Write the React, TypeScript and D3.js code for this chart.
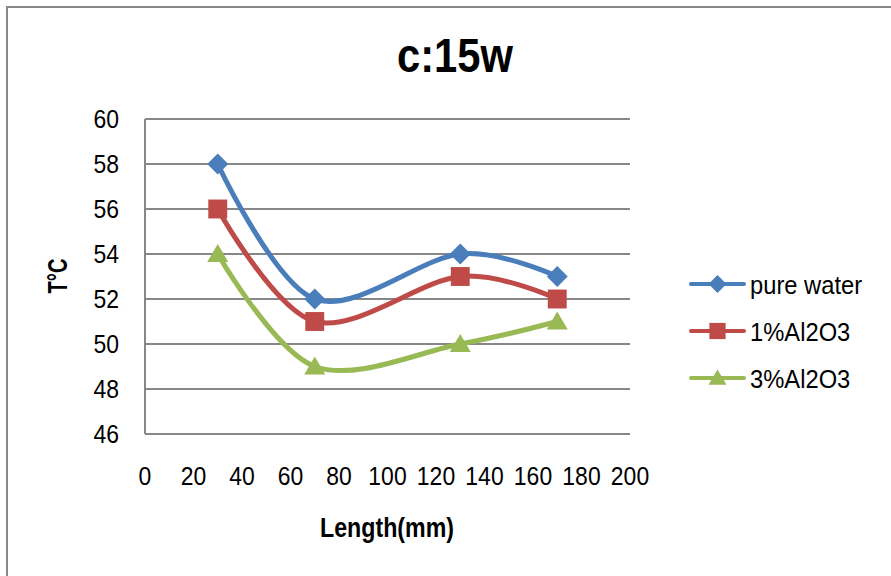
import React from "react";
import * as d3 from "d3";

const lengths = [30, 70, 130, 170];
const pureWater = [58, 52, 54, 53];
const al1 = [56, 51, 53, 52];
const al3 = [54, 49, 50, 51];
const xTicks = [0, 20, 40, 60, 80, 100, 120, 140, 160, 180, 200];
const yTicks = [46, 48, 50, 52, 54, 56, 58, 60];
const seriesNames = ["pure water", "1%Al2O3", "3%Al2O3"];
const seriesColors = ["#4A7EBB", "#BE4B48", "#98B954"];
const seriesMarkers = ["diamond", "square", "triangle"];
const seriesValues = [pureWater, al1, al3];

const W = 891;
const H = 576;
const FONT = "'Liberation Sans', Arial, sans-serif";

function Marker({ type, x, y, size, color }: { type: string; x: number; y: number; size: number; color: string }) {
  if (type === "diamond") {
    const s = size / 2;
    return <path d={`M${x},${y - s}L${x + s},${y}L${x},${y + s}L${x - s},${y}Z`} fill={color} />;
  }
  if (type === "square") {
    const s = size * 0.45;
    return <rect x={x - s} y={y - s} width={2 * s} height={2 * s} fill={color} />;
  }
  const s = size / 2;
  return <path d={`M${x},${y - s * 0.95}L${x + s},${y + s * 0.75}L${x - s},${y + s * 0.75}Z`} fill={color} />;
}

export default function App() {
  const x = d3.scaleLinear().domain([0, 200]).range([145, 630]);
  const y = d3.scaleLinear().domain([46, 60]).range([434, 119]);
  const line = d3
    .line<[number, number]>()
    .x((d) => x(d[0]))
    .y((d) => y(d[1]))
    .curve(d3.curveCardinal.tension(0));
  const grid = "#878787";

  return (
    <svg
      width={W}
      height={H}
      style={{ position: "absolute", left: 0, top: 0, display: "block", background: "#fff" }}
      fontFamily={FONT}
    >
      <rect x={0} y={0} width={W} height={H} fill="#fff" />
      <rect x={7} y={7} width={W + 20} height={H + 20} fill="none" stroke="#888" strokeWidth={2} />

      <text x={455} y={72} textAnchor="middle" fontSize={48} fontWeight="bold" textLength={116} lengthAdjust="spacingAndGlyphs">
        c:15w
      </text>

      {yTicks.map((t) => (
        <line key={"g" + t} x1={x(0)} x2={x(200)} y1={y(t)} y2={y(t)} stroke={grid} strokeWidth={2} />
      ))}
      <line x1={x(0)} x2={x(0)} y1={y(60)} y2={y(46)} stroke={grid} strokeWidth={2} />

      {yTicks.map((t) => (
        <g key={"yt" + t} transform={`translate(119,${y(t) + 8.5}) scale(0.9,1)`}>
          <text x={0} y={0} textAnchor="end" fontSize={25.5} fill="#000">
            {t}
          </text>
        </g>
      ))}
      {xTicks.map((t) => (
        <g key={"xt" + t} transform={`translate(${x(t)},485) scale(0.9,1)`}>
          <text x={0} y={0} textAnchor="middle" fontSize={25.5} fill="#000">
            {t}
          </text>
        </g>
      ))}

      <text x={387} y={537} textAnchor="middle" fontSize={28} fontWeight="bold" textLength={134} lengthAdjust="spacingAndGlyphs">
        Length(mm)
      </text>
      <text
        transform={`translate(67,276) rotate(-90)`}
        textAnchor="middle"
        fontSize={28}
        fontWeight="bold"
        textLength={35}
        lengthAdjust="spacingAndGlyphs"
      >
        T°C
      </text>

      {seriesValues.map((vals, i) => {
        const pts = lengths.map((l, j) => [l, vals[j]] as [number, number]);
        return (
          <g key={"s" + i}>
            <path d={line(pts) || ""} fill="none" stroke={seriesColors[i]} strokeWidth={5} strokeLinecap="round" />
            {pts.map((p, j) => (
              <Marker key={j} type={seriesMarkers[i]} x={x(p[0])} y={y(p[1])} size={21} color={seriesColors[i]} />
            ))}
          </g>
        );
      })}

      {seriesNames.map((n, i) => {
        const ly = 284 + i * 47;
        return (
          <g key={"l" + i}>
            <line x1={691} x2={744} y1={ly} y2={ly} stroke={seriesColors[i]} strokeWidth={4} strokeLinecap="round" />
            <Marker type={seriesMarkers[i]} x={717.5} y={ly} size={18} color={seriesColors[i]} />
            <g transform={`translate(750,${ly + 9.5}) scale(0.95,1)`}>
              <text x={0} y={0} fontSize={25} fill="#000">
                {n}
              </text>
            </g>
          </g>
        );
      })}
    </svg>
  );
}
